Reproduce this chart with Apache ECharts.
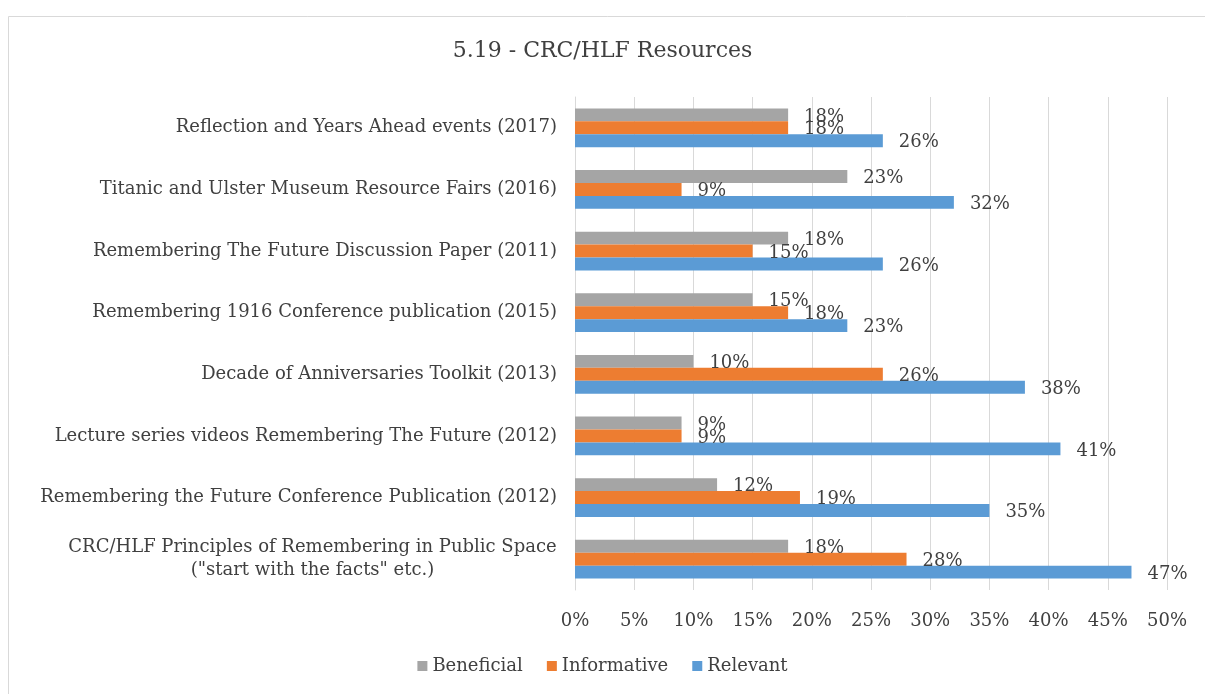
<!DOCTYPE html>
<html>
<head>
<meta charset="utf-8">
<script src="https://cdn.jsdelivr.net/npm/echarts@6/dist/echarts.min.js"></script>
<style>
  html, body { margin: 0; padding: 0; background: #fff; }
  #chart { width: 1205px; height: 694px; }
</style>
</head>
<body>
<div id="chart"></div>
<script>
// categories, top to bottom as in the picture
const categories = [
  'Reflection and Years Ahead events (2017)',
  'Titanic and Ulster Museum Resource Fairs (2016)',
  'Remembering The Future Discussion Paper (2011)',
  'Remembering 1916 Conference publication (2015)',
  'Decade of Anniversaries Toolkit (2013)',
  'Lecture series videos Remembering The Future (2012)',
  'Remembering the Future Conference Publication (2012)',
  'CRC/HLF Principles of Remembering in Public Space\n("start with the facts" etc.)'
]
const beneficial = [18, 23, 18, 15, 10, 9, 12, 18]
const informative = [18, 9, 15, 18, 26, 9, 19, 28]
const relevant = [26, 32, 26, 23, 38, 41, 35, 47]
const xTicks = [0, 5, 10, 15, 20, 25, 30, 35, 40, 45, 50]

const font = 'DejaVu Serif'
const fs = 18
const textColor = '#404040'

// width of the widest line of the two-line label, so its lines can be centred
const ctx = document.createElement('canvas').getContext('2d')
ctx.font = fs + 'px "' + font + '"'
const wrapWidth = Math.ceil(Math.max(...categories[7].split('\n').map((s) => ctx.measureText(s).width)))

const chart = echarts.init(document.getElementById('chart'))

const barLabel = {
  show: true,
  position: 'right',
  distance: 16,
  offset: [0, 2],
  fontFamily: font,
  fontSize: fs,
  color: textColor,
  formatter: (p) => p.value + '%'
}

const mkSeries = (name, data, color) => ({
  name: name,
  type: 'bar',
  data: data,
  barGap: '0%',
  barCategoryGap: '37%',
  itemStyle: { color: color },
  label: barLabel
})

const option = {
  animation: false,
  backgroundColor: '#fff',
  graphic: [
    {
      type: 'rect',
      shape: { x: 8.5, y: 16.5, width: 1205, height: 700 },
      style: { fill: 'none', stroke: '#d9d9d9', lineWidth: 1 },
      silent: true
    }
  ],
  title: {
    text: '5.19 - CRC/HLF Resources',
    left: 'center',
    top: 35,
    textStyle: { fontFamily: font, fontSize: 22, fontWeight: 'normal', color: textColor }
  },
  legend: {
    data: ['Beneficial', 'Informative', 'Relevant'],
    bottom: 14,
    left: 'center',
    itemWidth: 10,
    itemHeight: 10,
    itemGap: 24,
    icon: 'rect',
    textStyle: { fontFamily: font, fontSize: fs, color: textColor }
  },
  grid: {
    left: 575,
    right: 38,
    top: 97,
    bottom: 104,
    containLabel: false
  },
  xAxis: {
    type: 'value',
    min: 0,
    max: 50,
    interval: 5,
    axisLine: { show: false },
    axisTick: { show: false },
    splitLine: { show: true, lineStyle: { color: '#d9d9d9', width: 1 } },
    axisLabel: {
      margin: 22,
      fontFamily: font,
      fontSize: fs,
      color: textColor,
      formatter: (v) => (xTicks.indexOf(v) >= 0 ? v + '%' : '')
    }
  },
  yAxis: {
    type: 'category',
    data: categories,
    inverse: true,
    axisLine: { show: true, lineStyle: { color: '#d9d9d9' } },
    axisTick: { show: false },
    axisLabel: {
      margin: 18,
      fontFamily: font,
      fontSize: fs,
      color: textColor,
      formatter: (v) => {
        if (v.indexOf('\n') >= 0) {
          return v.split('\n').map((s) => '{c|' + s + '}').join('\n')
        }
        return v
      },
      rich: {
        c: {
          width: wrapWidth,
          align: 'center',
          fontFamily: font,
          fontSize: fs,
          color: textColor,
          lineHeight: 23
        }
      }
    }
  },
  series: [
    mkSeries('Beneficial', beneficial, '#a5a5a5'),
    mkSeries('Informative', informative, '#ed7d31'),
    mkSeries('Relevant', relevant, '#5b9bd5')
  ]
}

chart.setOption(option)
</script>
</body>
</html>
